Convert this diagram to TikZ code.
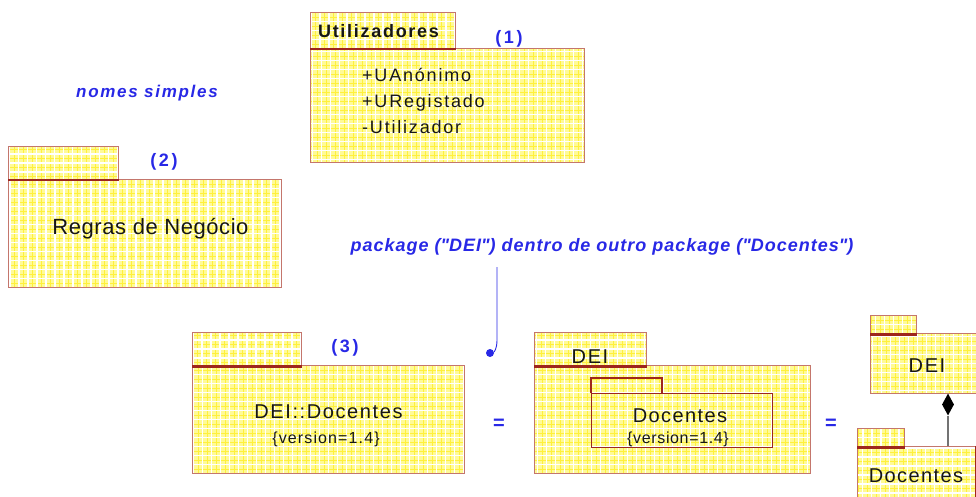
\documentclass[tikz,border=0pt]{standalone}
\usepackage{fontspec}
\setmainfont{Liberation Sans}
\usetikzlibrary{shapes.geometric}

\definecolor{pkgfill}{RGB}{255,250,150}
\definecolor{gridmid}{RGB}{255,240,60}
\definecolor{pkgline}{RGB}{196,118,108}
\definecolor{tabline}{RGB}{158,38,28}
\definecolor{noteblue}{RGB}{40,40,230}
\definecolor{ink}{RGB}{22,22,22}

% font size + tracking
\newcommand\tfont[2]{\fontsize{#1}{#1}\selectfont\addfontfeature{LetterSpace=#2}}

\tikzset{
  pkg/.style={draw=pkgline, line width=1.2pt, inner sep=0pt, anchor=north west,
    path picture={
      \fill[pkgfill] (path picture bounding box.south west) rectangle (path picture bounding box.north east);
      \draw[gridmid, line width=0.8pt, step=4.5pt] (path picture bounding box.south west) grid (path picture bounding box.north east);
      \draw[white, line width=1.6pt, step=9pt] (path picture bounding box.south west) grid (path picture bounding box.north east);
    }},
  tabbar/.style={draw=tabline, line width=2.6pt},
  thinbar/.style={draw=tabline, line width=1.2pt},
  label/.style={inner sep=0pt, text=ink},
  bluetext/.style={inner sep=0pt, text=noteblue},
  noteline/.style={draw=noteblue, line width=0.9pt},
}

\begin{document}
\begin{tikzpicture}[x=1pt, y=-1pt]
\clip (0,0) rectangle (976,497);

% ---------- (1) Utilizadores ----------
\node[pkg, minimum width=145pt, minimum height=36pt] (utilTab) at (310,12) {};
\node[pkg, minimum width=274pt, minimum height=114pt] (utilBody) at (310,48) {};
\draw[tabbar] (utilTab.south west) -- (utilTab.south east);
\node[label, anchor=base, font=\tfont{18}{9.5}\bfseries] (utilName) at (378.5,38) {Utilizadores};
\node[label, anchor=base west, font=\tfont{18}{10}] (uAnon) at (362,82) {+UAnónimo};
\node[label, anchor=base west, font=\tfont{18}{10}] (uReg) at (362,108) {+URegistado};
\node[label, anchor=base west, font=\tfont{18}{10}] (uUser) at (362,134) {-Utilizador};
\node[bluetext, font=\tfont{18}{14}\bfseries] (n1) at (509,39) {(1)};

% ---------- simple names ----------
\node[bluetext, font=\tfont{17}{10}\bfseries\itshape] (simple) at (147,93) {nomes simples};

% ---------- (2) Regras de Negocio ----------
\node[pkg, minimum width=110pt, minimum height=33pt] (rnTab) at (8,146) {};
\node[pkg, minimum width=273pt, minimum height=108pt] (rnBody) at (8,179) {};
\draw[tabbar] (rnTab.south west) -- (rnTab.south east);
\node[label, anchor=base, font=\tfont{22}{2.5}] (rnName) at (150.5,234) {Regras de Negócio};
\node[bluetext, font=\tfont{18}{14}\bfseries] (n2) at (164,162) {(2)};

% ---------- note ----------
\node[bluetext, font=\tfont{18}{5.5}\bfseries\itshape] (note) at (602,247) {package (\textquotedbl DEI\textquotedbl) dentro de outro package (\textquotedbl Docentes\textquotedbl)};
\coordinate (noteTop) at (497,267);
\node[circle, fill=noteblue, minimum size=8pt, inner sep=0pt] (noteDot) at (490,353) {};
\draw[noteline] (noteTop) -- (497,340) .. controls (497,349) and (494,352) .. (noteDot);

% ---------- (3) DEI::Docentes ----------
\node[pkg, minimum width=109pt, minimum height=33pt] (dqTab) at (192,332) {};
\node[pkg, minimum width=272pt, minimum height=108pt] (dqBody) at (192,365) {};
\draw[tabbar] (dqTab.south west) -- (dqTab.south east);
\node[label, anchor=base, font=\tfont{20}{8}] (dqName) at (328.5,418) {DEI::Docentes};
\node[label, font=\tfont{16}{7}] (dqVer) at (326,439) {\{version=1.4\}};
\node[bluetext, font=\tfont{18}{14}\bfseries] (n3) at (345,348) {(3)};

\node[bluetext, font=\tfont{20}{0}\bfseries] (eq1) at (499,424) {=};

% ---------- nested packages ----------
\node[pkg, minimum width=112pt, minimum height=33pt] (deiTab) at (534,332) {};
\node[pkg, minimum width=276pt, minimum height=108pt] (deiBody) at (534,365) {};
\draw[tabbar] (deiTab.south west) -- (deiTab.south east);
\node[label, anchor=base, font=\tfont{20}{8}] (deiName) at (590,363) {DEI};
\draw[thinbar] (591,393) |- (662,378) -- (662,393);
\node[draw=tabline, line width=1.2pt, inner sep=0pt, anchor=north west, minimum width=181pt, minimum height=54pt] (docInner) at (591,393) {};
\node[label, anchor=base, font=\tfont{20}{7}] (docName) at (680,422) {Docentes};
\node[label, font=\tfont{16}{4}] (docVer) at (678,439) {\{version=1.4\}};

\node[bluetext, font=\tfont{20}{0}\bfseries] (eq2) at (831,424) {=};

% ---------- composition view ----------
\node[pkg, minimum width=46pt, minimum height=18pt] (rDeiTab) at (870,315) {};
\node[pkg, minimum width=130pt, minimum height=60pt] (rDeiBody) at (870,333) {};
\draw[tabbar] (rDeiTab.south west) -- (rDeiTab.south east);
\node[label, anchor=base, font=\tfont{20}{8}] (rDeiName) at (927,372) {DEI};

\node[pkg, minimum width=47pt, minimum height=18pt] (rDocTab) at (857,428) {};
\node[pkg, minimum width=118pt, minimum height=75pt] (rDocBody) at (857,446) {};
\draw[tabbar] (rDocTab.south west) -- (rDocTab.south east);
\draw[tabbar] (rDocBody.north east) -- (rDocBody.south east);
\node[label, anchor=base, font=\tfont{20}{7}] (rDocName) at (916,482) {Docentes};

\node[diamond, fill=black, minimum width=12pt, minimum height=22pt, inner sep=0pt] (comp) at (948,404.5) {};
\draw[draw=black!55, line width=1.2pt] (comp.south) -- (comp.south |- rDocBody.north);
\end{tikzpicture}
\end{document}
